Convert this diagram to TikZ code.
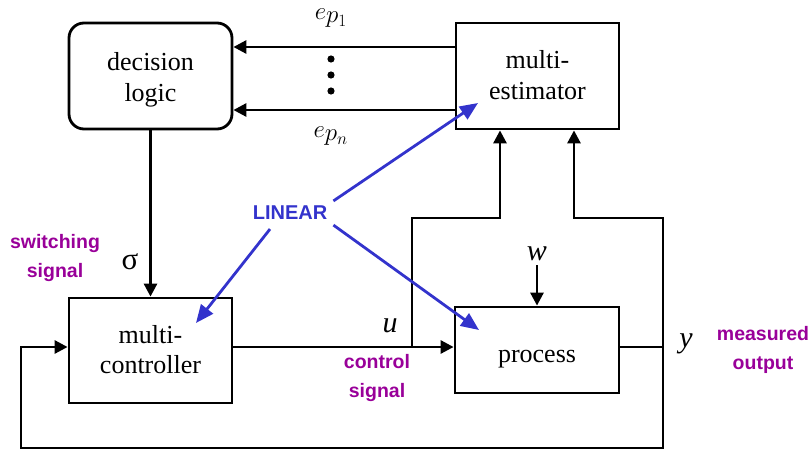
\documentclass[tikz,border=0pt]{standalone}
\usepackage{fontspec}
\setmainfont{Liberation Serif}
\newfontfamily\lab{Liberation Sans}
\usetikzlibrary{arrows.meta,calc}
\definecolor{lblue}{HTML}{3333CC}
\definecolor{lpurp}{HTML}{990099}
\newcommand{\lowr}[2]{\raisebox{-#1}[\height][\depth]{\begin{tabular}{@{}c@{}}#2\end{tabular}}}
\begin{document}
\begin{tikzpicture}[x=1pt,y=-1pt,
  blk/.style={draw,line width=2.8pt,align=center,font=\fontsize{26}{30.5}\selectfont,inner sep=0pt},
  wire/.style={line width=2.8pt},
  arr/.style={wire,-{Triangle[length=13pt,width=13pt]}},
  barr/.style={draw=lblue,line width=2.8pt,-{Triangle[length=18pt,width=15pt]}},
  plab/.style={text=lpurp,font=\lab\bfseries\fontsize{19.5}{28.5}\selectfont,align=center},
  mlab/.style={font=\fontsize{36}{38}\selectfont,inner sep=0pt},
  slab/.style={font=\itshape\fontsize{30}{32}\selectfont,inner sep=0pt}]
\useasboundingbox (0,0) rectangle (812,450);
% blocks
\node[blk,rounded corners=15pt,minimum width=163pt,minimum height=106pt] (dec) at (150.5,76) {\lowr{4pt}{decision\\logic}};
\node[blk,minimum width=163pt,minimum height=106pt] (est) at (537.5,76) {\lowr{2pt}{multi-\\estimator}};
\node[blk,minimum width=163pt,minimum height=105pt] (ctrl) at (150.5,350.5) {\lowr{2pt}{multi-\\controller}};
\node[blk,minimum width=164pt,minimum height=86pt] (proc) at (537,350) {\lowr{6pt}{process}};
% e_p arrows
\coordinate (a1) at ([yshift=29pt]est.west);
\coordinate (an) at ([yshift=-34pt]est.west);
\draw[arr] (a1) -- (a1 -| dec.east);
\draw[arr] (an) -- (an -| dec.east);
\fill (331,59) circle (3.6pt);
\fill (331,75) circle (3.6pt);
\fill (331,91) circle (3.6pt);
\node[mlab] (ep1) at (331,18) {$e_{p_1}$};
\node[mlab] (epn) at (331,136) {$e_{p_n}$};
% sigma
\draw[arr] (dec.south) -- (ctrl.north);
\node[font=\fontsize{31}{32}\selectfont,inner sep=0pt] (sig) at (130,262) {σ};
% control signal
\coordinate (cy) at ([yshift=3.5pt]ctrl.east);
\draw[arr] (cy) -- (cy -| proc.west);
\coordinate (ub) at (412,347);
\coordinate (uu) at (500,218);
\draw[arr] (ub) |- (uu) -- (uu |- est.south);
% output
\coordinate (yb) at (663,347);
\coordinate (yy) at (574,218);
\draw[wire] ([yshift=3pt]proc.east) -- (yb);
\draw[arr] (yb) |- (yy) -- (yy |- est.south);
\coordinate (fb) at (21,448);
\draw[arr] (yb) |- (fb) |- (cy -| ctrl.west);
% w
\node[slab] (w) at (537,254) {w};
\draw[arr] ([yshift=-4pt]w.south) -- (proc.north);
% symbols
\node[slab] (u) at (390,326) {u};
\node[slab] (y) at (686,344) {y};
% purple labels
\node[plab] (sw) at (55,258) {switching\\signal};
\node[plab] (cs) at (377,378) {control\\signal};
\node[plab] (mo) at (763,350) {measured\\output};
% LINEAR
\node[text=lblue,font=\lab\bfseries\fontsize{20}{24}\selectfont,inner xsep=6pt,inner ysep=5pt] (lin) at (290,213) {LINEAR};
\coordinate (t1) at (478,103);
\coordinate (t2) at (196,323);
\coordinate (t3) at (479,330);
\draw[barr] (lin.north east) -- (t1);
\draw[barr] ([xshift=-20pt,yshift=-4pt]lin.south) -- (t2);
\draw[barr] (lin.south east) -- (t3);
\end{tikzpicture}
\end{document}
